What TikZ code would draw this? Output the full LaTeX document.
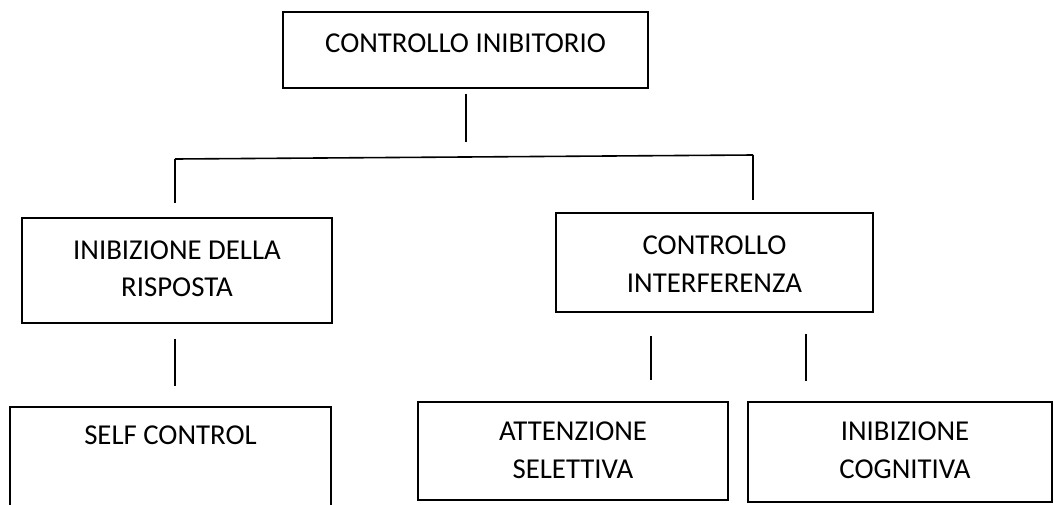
\documentclass[tikz,border=0pt]{standalone}
\usepackage{fontspec}
\setmainfont{Carlito}
\begin{document}
\begin{tikzpicture}[x=1pt,y=-1pt,
  box/.style={draw=black, line width=1.6pt, inner sep=0pt, rectangle},
  txt/.style={inner sep=0pt, align=center, font=\fontsize{28.8}{37.5}\selectfont},
  link/.style={draw=black, line width=1.6pt}]
\useasboundingbox (0,0) rectangle (1054,504);
\clip (0,0) rectangle (1054,504);

% boxes
\node[box, minimum width=365, minimum height=76] (root) at (465.5,50) {};
\node[box, minimum width=310, minimum height=105] (resp) at (177,270.5) {};
\node[box, minimum width=317, minimum height=99] (interf) at (714.5,262.5) {};
\node[box, minimum width=321, minimum height=130] (self) at (170.5,472) {};
\node[box, minimum width=310, minimum height=98] (attn) at (573,451) {};
\node[box, minimum width=304, minimum height=100] (cogn) at (900,452) {};

% labels
\node[txt] (tRoot) at (465.5,43) {CONTROLLO INIBITORIO};
\node[txt] (tResp) at (177,268.5) {INIBIZIONE DELLA\\RISPOSTA};
\node[txt] (tInterf) at (714.5,264) {CONTROLLO\\INTERFERENZA};
\node[txt] (tSelf) at (170.5,435) {SELF CONTROL};
\node[txt] (tAttn) at (573,450) {ATTENZIONE\\SELETTIVA};
\node[txt] (tCogn) at (905,450) {INIBIZIONE\\COGNITIVA};

% connector end points
\coordinate (r0) at (466,94);
\coordinate (r1) at (466,142);
\coordinate (hL) at (175,159);
\coordinate (hR) at (753,155);
\coordinate (vL) at (175,203);
\coordinate (vR) at (753,200);
\coordinate (s0) at (175,339);
\coordinate (s1) at (175,386);
\coordinate (a0) at (651,336);
\coordinate (a1) at (651,380);
\coordinate (c0) at (806,334);
\coordinate (c1) at (806,381);

% connectors
\draw[link] (r0) -- (r1);
\draw[link] (hL) -- (hR);
\draw[link] (hL) -- (vL);
\draw[link] (hR) -- (vR);
\draw[link] (s0) -- (s1);
\draw[link] (a0) -- (a1);
\draw[link] (c0) -- (c1);
\end{tikzpicture}
\end{document}
